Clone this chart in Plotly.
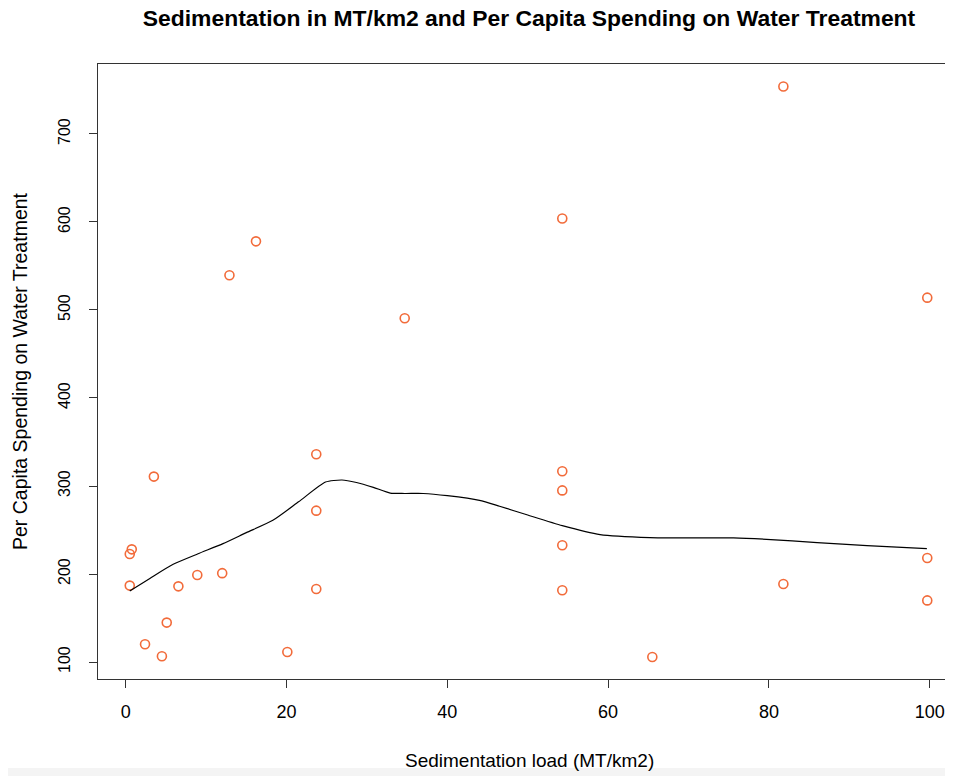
import plotly.graph_objects as go

# Data
sed_load = [0.5, 0.75, 0.5, 3.5, 2.4, 4.5, 5.1, 6.55, 8.9, 12.0, 12.9, 16.2, 20.1,
            23.7, 23.7, 23.7, 34.7, 54.3, 54.3, 54.3, 54.3, 54.3, 65.5, 81.8, 81.8,
            99.7, 99.7, 99.7]
spending = [222.7, 228, 186.8, 310.7, 120.1, 106.5, 144.8, 186, 198.9, 201, 539.4, 578,
            111.4, 336, 272, 183, 490.6, 604, 316.7, 295, 232.6, 181.5, 105.7, 754, 188.6,
            514, 218.2, 170]

# Smoothed trend line
smooth_x = [0.5, 3.0, 5.9, 9.0, 12.1, 15.0, 18.3, 21.5, 24.85, 26.9, 28.7, 30.8, 32.9,
            34.7, 37.0, 40.0, 44.0, 46.5, 50.0, 54.3, 59.0, 65.2, 70.0, 75.6, 79.7,
            86.0, 92.2, 99.65]
smooth_y = [180.7, 195.0, 211.0, 223.0, 234.5, 247.0, 261.0, 282.0, 304.5, 306.8, 304.0,
            298.5, 292.0, 291.5, 291.5, 289.0, 283.7, 277.0, 267.0, 255.0, 244.8, 241.4,
            241.0, 241.0, 239.4, 235.7, 232.3, 228.9]

x_ticks = [0, 20, 40, 60, 80, 100]
y_ticks = [100, 200, 300, 400, 500, 600, 700]

FONT = "Liberation Sans, Arial, Helvetica, sans-serif"

fig = go.Figure()
fig.add_trace(go.Scatter(
    x=sed_load, y=spending, mode="markers",
    marker=dict(symbol="circle-open", size=9, color="#F26B3A", line=dict(width=1.6)),
    showlegend=False, hoverinfo="x+y"))
fig.add_trace(go.Scatter(
    x=smooth_x, y=smooth_y, mode="lines",
    line=dict(color="black", width=1.2, shape="spline", smoothing=0.6),
    showlegend=False, hoverinfo="skip"))

# faint grey band along the bottom edge of the original screenshot
fig.add_shape(type="rect", xref="paper", yref="paper", x0=-0.2, x1=1.05,
              y0=-(768 - 679) / 615, y1=-0.2, fillcolor="#f4f4f4", line_width=0,
              layer="below")

# x-axis title centred on the (wider) original plot region
fig.add_annotation(text="Sedimentation load (MT/km2)", xref="paper", yref="paper",
                   x=(529 - 98) / 855, y=-(760 - 679) / 615, xanchor="center",
                   yanchor="middle", showarrow=False,
                   font=dict(size=19, family=FONT, color="black"))

fig.update_layout(
    width=945, height=768,
    margin=dict(l=90, r=0, t=56, b=97, pad=0),
    paper_bgcolor="white", plot_bgcolor="white",
    font=dict(family=FONT, color="black", size=15),
    title=dict(text="<b>Sedimentation in MT/km2 and Per Capita Spending on Water Treatment</b>",
               x=(529 - 8) / 945, xanchor="center", y=1 - 10 / 768, yanchor="middle",
               font=dict(size=22.9, family=FONT, color="black")),
    xaxis=dict(range=[-3.45, 102.9], tickvals=x_ticks, ticktext=[str(v) for v in x_ticks],
               showgrid=False, zeroline=False, showline=True, linecolor="#333",
               linewidth=1.3, mirror=True, ticks="outside", ticklen=8, tickwidth=1,
               tickcolor="#333", ticklabelstandoff=8,
               tickfont=dict(size=18, family=FONT)),
    yaxis=dict(range=[80.7, 779.5], tickvals=y_ticks, ticktext=[str(v) for v in y_ticks],
               showgrid=False, zeroline=False, showline=True, linecolor="#333",
               linewidth=1.3, mirror=False, ticks="outside", ticklen=8, tickwidth=1,
               tickcolor="#333", tickangle=-90, ticklabelstandoff=12,
               tickfont=dict(size=16, family=FONT),
               title=dict(text="Per Capita Spending on Water Treatment", standoff=23,
                          font=dict(size=19.5, family=FONT))),
)

fig.write_html("out.html")
